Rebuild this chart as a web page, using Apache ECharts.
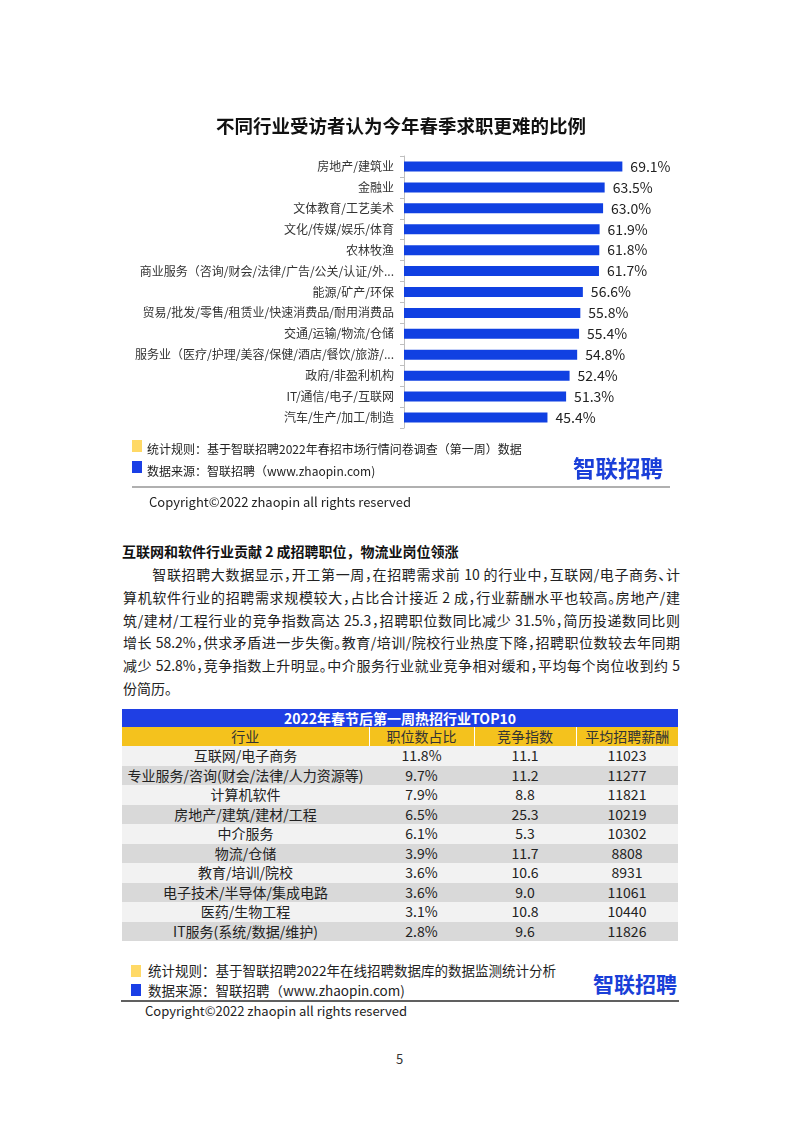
<!DOCTYPE html>
<html>
<head>
<meta charset="utf-8">
<script src="https://cdn.jsdelivr.net/npm/echarts@6/dist/echarts.min.js"></script>
<style>
  html, body { margin: 0; padding: 0; background: #fff; }
  body { width: 802px; height: 1134px; position: relative; overflow: hidden;
         font-family: "Noto Sans CJK SC", "Noto Sans", sans-serif; color: #222; }
  #chart { position: absolute; left: 0; top: 0; width: 802px; height: 450px; }
  .abs { position: absolute; white-space: nowrap; }
  .sq { position: absolute; width: 10px; height: 12px; }
  .logo { position: absolute; font-weight: bold; color: #1a3fd8; letter-spacing: 0px; }
  #para { position: absolute; left: 123px; top: 563px; width: 557px; font-size: 14px;
          line-height: 22.8px; color: #222; font-feature-settings: "halt"; }
  #para div { white-space: nowrap; text-align: justify; text-align-last: justify; width: 557px; }
  #para div.last { text-align-last: left; }
  table { position: absolute; left: 122px; top: 709px; width: 556px; border-collapse: collapse;
          font-size: 14px; color: #222; table-layout: fixed; }
  td, th { padding: 0; text-align: center; white-space: nowrap; overflow: hidden; }
  .ttl td { background: #1f3fe4; color: #fff; font-weight: bold; height: 18px; line-height: 18px; }
  .hdr th { background: #f4c21d; color: #333; font-weight: normal; height: 19px; line-height: 19px;
            border-left: 1px solid #fff; }
  .hdr th:first-child { border-left: none; }
  .row td { height: 19.5px; line-height: 19.5px; }
  .r0 td { background: #f2f2f2; }
  .r1 td { background: #d9d9d9; }
</style>
</head>
<body>
<div id="chart"></div>

<!-- chart 1 footnotes -->
<div class="sq" style="left:132px;top:440px;background:#ffd966;"></div>
<div class="abs" style="left:147px;top:441px;font-size:12px;line-height:16px;color:#222;" id="note1a"></div>
<div class="sq" style="left:132px;top:461px;background:#1a3fe6;"></div>
<div class="abs" style="left:147px;top:463px;font-size:12px;line-height:16px;color:#222;" id="note1b"></div>
<div class="logo" style="left:573px;top:452px;font-size:22.5px;line-height:30px;">智联招聘</div>
<div class="abs" style="left:132px;top:486px;width:538px;height:2px;background:#b0b0b0;"></div>
<div class="abs" style="left:149px;top:493px;font-size:13px;line-height:18px;color:#222;" id="copy1"></div>

<!-- section text -->
<div class="abs" style="left:122px;top:541px;font-size:14px;line-height:20px;font-weight:bold;color:#111;" id="heading"></div>
<div id="para"></div>

<table id="tbl"></table>

<!-- table footnotes -->
<div class="sq" style="left:131px;top:965px;background:#ffd966;"></div>
<div class="abs" style="left:148px;top:961px;font-size:13.5px;line-height:19px;color:#222;" id="note2a"></div>
<div class="sq" style="left:131px;top:984px;background:#1a3fe6;"></div>
<div class="abs" style="left:148px;top:981px;font-size:13.5px;line-height:19px;color:#222;" id="note2b"></div>
<div class="logo" style="left:593px;top:969px;font-size:21px;line-height:28px;">智联招聘</div>
<div class="abs" style="left:121px;top:1000px;width:558px;height:2px;background:#606060;"></div>
<div class="abs" style="left:145px;top:1002px;font-size:13px;line-height:18px;color:#222;" id="copy2"></div>

<div class="abs" style="left:396px;top:1050px;font-size:13px;line-height:18px;color:#333;">5</div>

<script>
// ---------- chart data ----------
const chartTitle = '不同行业受访者认为今年春季求职更难的比例';
const categories = [
  '房地产/建筑业',
  '金融业',
  '文体教育/工艺美术',
  '文化/传媒/娱乐/体育',
  '农林牧渔',
  '商业服务（咨询/财会/法律/广告/公关/认证/外...',
  '能源/矿产/环保',
  '贸易/批发/零售/租赁业/快速消费品/耐用消费品',
  '交通/运输/物流/仓储',
  '服务业（医疗/护理/美容/保健/酒店/餐饮/旅游/...',
  '政府/非盈利机构',
  'IT/通信/电子/互联网',
  '汽车/生产/加工/制造'
];
const values = [69.1, 63.5, 63.0, 61.9, 61.8, 61.7, 56.6, 55.8, 55.4, 54.8, 52.4, 51.3, 45.4];

// ---------- table data ----------
const tableTitle = '2022年春节后第一周热招行业TOP10';
const tableHeaders = ['行业', '职位数占比', '竞争指数', '平均招聘薪酬'];
const tableIndustries = ['互联网/电子商务', '专业服务/咨询(财会/法律/人力资源等)', '计算机软件', '房地产/建筑/建材/工程',
  '中介服务', '物流/仓储', '教育/培训/院校', '电子技术/半导体/集成电路', '医药/生物工程', 'IT服务(系统/数据/维护)'];
const tableShare = ['11.8%', '9.7%', '7.9%', '6.5%', '6.1%', '3.9%', '3.6%', '3.6%', '3.1%', '2.8%'];
const tableCompetition = ['11.1', '11.2', '8.8', '25.3', '5.3', '11.7', '10.6', '9.0', '10.8', '9.6'];
const tableSalary = ['11023', '11277', '11821', '10219', '10302', '8808', '8931', '11061', '10440', '11826'];
const tableColWidths = [247, 105, 102, 102];

// ---------- texts ----------
const note1a = '统计规则：基于智联招聘2022年春招市场行情问卷调查（第一周）数据';
const note1b = '数据来源：智联招聘（www.zhaopin.com)';
const copyright = 'Copyright©2022 zhaopin all rights reserved';
const heading = '互联网和软件行业贡献 2 成招聘职位，物流业岗位领涨';
const paragraphLines = [
  '\u3000\u3000智联招聘大数据显示，开工第一周，在招聘需求前 10 的行业中，互联网/电子商务、计',
  '算机软件行业的招聘需求规模较大，占比合计接近 2 成，行业薪酬水平也较高。房地产/建',
  '筑/建材/工程行业的竞争指数高达 25.3，招聘职位数同比减少 31.5%，简历投递数同比则',
  '增长 58.2%，供求矛盾进一步失衡。教育/培训/院校行业热度下降，招聘职位数较去年同期',
  '减少 52.8%，竞争指数上升明显。中介服务行业就业竞争相对缓和，平均每个岗位收到约 5',
  '份简历。'
];
const note2a = '统计规则：基于智联招聘2022年在线招聘数据库的数据监测统计分析';
const note2b = '数据来源：智联招聘（www.zhaopin.com)';

document.getElementById('note1a').textContent = note1a;
document.getElementById('note1b').textContent = note1b;
document.getElementById('copy1').textContent = copyright;
document.getElementById('heading').textContent = heading;
document.getElementById('note2a').textContent = note2a;
document.getElementById('note2b').textContent = note2b;
document.getElementById('copy2').textContent = copyright;

// paragraph, one div per printed line
(function () {
  const para = document.getElementById('para');
  paragraphLines.forEach((t, i) => {
    const d = document.createElement('div');
    d.textContent = t;
    if (i === paragraphLines.length - 1) d.className = 'last';
    para.appendChild(d);
    // shrink letter spacing if a line is naturally wider than the column
    const probe = document.createElement('span');
    probe.style.cssText = 'position:absolute;visibility:hidden;white-space:nowrap;font-size:14px;font-feature-settings:"halt";';
    probe.textContent = t;
    document.body.appendChild(probe);
    const w = probe.getBoundingClientRect().width;
    document.body.removeChild(probe);
    if (w > 557) d.style.letterSpacing = (-(w - 557) / t.length).toFixed(3) + 'px';
  });
})();

// build table
(function () {
  const tbl = document.getElementById('tbl');
  let html = '<colgroup>' + tableColWidths.map(w => '<col style="width:' + w + 'px">').join('') + '</colgroup>';
  html += '<tr class="ttl"><td colspan="4">' + tableTitle + '</td></tr>';
  html += '<tr class="hdr">' + tableHeaders.map(h => '<th>' + h + '</th>').join('') + '</tr>';
  for (let i = 0; i < tableIndustries.length; i++) {
    html += '<tr class="row r' + (i % 2) + '"><td>' + tableIndustries[i] + '</td><td>' + tableShare[i] +
      '</td><td>' + tableCompetition[i] + '</td><td>' + tableSalary[i] + '</td></tr>';
  }
  tbl.innerHTML = html;
})();

// ---------- chart ----------
const chart = echarts.init(document.getElementById('chart'), null, { renderer: 'canvas' });
chart.setOption({
  animation: false,
  title: {
    text: chartTitle,
    left: 'center',
    top: 112,
    textStyle: { fontSize: 18.5, fontWeight: 'bold', color: '#111', fontFamily: 'Noto Sans CJK SC' }
  },
  grid: { left: 404, top: 156, width: 316, height: 272, containLabel: false },
  xAxis: { type: 'value', min: 0, max: 100, show: false },
  yAxis: {
    type: 'category',
    inverse: true,
    data: categories,
    axisLine: { show: true, lineStyle: { color: '#bfbfbf', width: 1 } },
    axisTick: { show: true, length: 4, lineStyle: { color: '#bfbfbf' } },
    axisLabel: { fontSize: 12, color: '#333', margin: 10, fontFamily: 'Noto Sans CJK SC' }
  },
  series: [{
    type: 'bar',
    data: values,
    barWidth: 10,
    itemStyle: { color: '#1040e2' },
    label: {
      show: true,
      position: 'right',
      distance: 8,
      fontSize: 14,
      color: '#222',
      fontFamily: 'Noto Sans CJK SC',
      formatter: p => p.value.toFixed(1) + '%'
    }
  }]
});
</script>
</body>
</html>
